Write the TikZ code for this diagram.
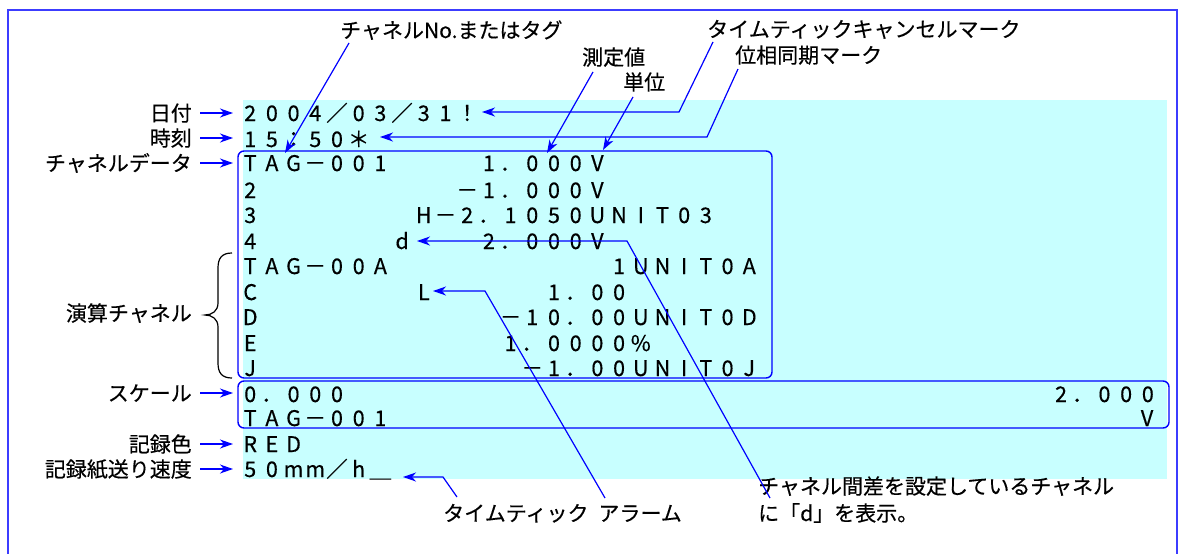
\documentclass[tikz,border=0pt]{standalone}
\usepackage{fontspec}
\setmainfont{Noto Sans CJK JP}[FakeBold=0.4]
\usetikzlibrary{arrows.meta}
\definecolor{myblue}{RGB}{0,0,255}
\definecolor{frameblue}{RGB}{60,60,255}
\definecolor{cyanbg}{RGB}{200,255,255}
\newlength\cw
\setlength\cw{21.7pt}
\def\cellsA#1{\ifx\relax#1\else\makebox[\cw]{#1}\expandafter\cellsA\fi}
\newcommand\cells[1]{\cellsA#1\relax}
\begin{document}
\begin{tikzpicture}[x=1pt,y=-1pt,
  jp/.style={font=\fontsize{21}{27}\selectfont, inner sep=0pt, text height=18.5pt, text depth=2.5pt},
  jpml/.style={font=\fontsize{21}{27}\selectfont, inner sep=0pt, align=left},
  dat/.style={font=\fontsize{21.5}{25}\selectfont, inner sep=0pt, anchor=base west},
  conn/.style={draw=myblue, line width=1.2pt},
  arr/.style={conn, -{Stealth[length=13pt,width=9pt,inset=4pt]}},
  frameline/.style={draw=frameblue, line width=2pt},
  databox/.style={draw=myblue, line width=1.4pt, rounded corners=6pt},
  bracel/.style={draw=black, line width=1.2pt}]
\useasboundingbox (0,0) rectangle (1178,554);
% frame and background
\draw[frameline] (8,570) -- (8,10) -- (1177,10) -- (1177,570);
\fill[cyanbg] (243,100) rectangle (1167,479);
% data rows
\node[dat] (r1) at ({239.15},121) {\cells{2004／03／31！}};
\node[dat] (r2) at ({239.15},147) {\cells{15：50＊}};
\node[dat] (r3a) at ({239.15},171) {\cells{TAG－001}};
\node[dat] (r3b) at ({239.15+21.7*11},171) {\cells{1．000V}};
\node[dat] (r4a) at ({239.15},198) {\cells{2}};
\node[dat] (r4b) at ({239.15+21.7*10},198) {\cells{－1．000V}};
\node[dat] (r5a) at ({239.15},223) {\cells{3}};
\node[dat] (r5b) at ({239.15+21.7*8},223) {\cells{H－2．1050UNIT03}};
\node[dat] (r6a) at ({239.15},249) {\cells{4}};
\node[dat] (r6b) at ({239.15+21.7*7},249) {\cells{d}};
\node[dat] (r6c) at ({239.15+21.7*11},249) {\cells{2．000V}};
\node[dat] (r7a) at ({239.15},274) {\cells{TAG－00A}};
\node[dat] (r7b) at ({239.15+21.7*17},274) {\cells{1UNIT0A}};
\node[dat] (r8a) at ({239.15},300) {\cells{C}};
\node[dat] (r8b) at ({239.15+21.7*8},300) {\cells{L}};
\node[dat] (r8c) at ({239.15+21.7*14},300) {\cells{1．00}};
\node[dat] (r9a) at ({239.15},325) {\cells{D}};
\node[dat] (r9b) at ({239.15+21.7*12},325) {\cells{－10．00UNIT0D}};
\node[dat] (r10a) at ({239.15},351) {\cells{E}};
\node[dat] (r10b) at ({239.15+21.7*12},351) {\cells{1．0000\%}};
\node[dat] (r11a) at ({239.15},376) {\cells{J}};
\node[dat] (r11b) at ({239.15+21.7*13},376) {\cells{－1．00UNIT0J}};
\node[dat] (r12a) at ({239.15},402) {\cells{0．000}};
\node[dat] (r12b) at (1050,402) {\cells{2．000}};
\node[dat] (r13a) at ({239.15},426) {\cells{TAG－001}};
\node[dat] (r13b) at (1136,426) {\cells{V}};
\node[dat] (r14) at ({239.15},452) {\cells{RED}};
\node[dat] (r15) at ({239.15},477) {\cells{50mm／h＿}};
% boxes
\draw[databox] (238,151) rectangle (772,378);
\draw[databox] (238,381) rectangle (1169,428);
% left labels
\node[jp, anchor=east] (lDate) at (192,113) {日付};
\node[jp, anchor=east] (lTime) at (192,138) {時刻};
\node[jp, anchor=east] (lCh) at (192,163) {チャネルデータ};
\node[jp, anchor=east] (lCalc) at (192,313) {演算チャネル};
\node[jp, anchor=east] (lScale) at (192,393) {スケール};
\node[jp, anchor=east] (lColor) at (192,444) {記録色};
\node[jp, anchor=east] (lSpeed) at (192,469) {記録紙送り速度};
\coordinate (tDate) at (233,113);
\coordinate (tTime) at (233,138);
\coordinate (tCh) at (233,163);
\coordinate (tScale) at (233,393);
\coordinate (tColor) at (233,444);
\coordinate (tSpeed) at (233,469);
\draw[arr] ([xshift=8pt]lDate.east) -- (tDate);
\draw[arr] ([xshift=8pt]lTime.east) -- (tTime);
\draw[arr] ([xshift=8pt]lCh.east) -- (tCh);
\draw[arr] ([xshift=8pt]lScale.east) -- (tScale);
\draw[arr] ([xshift=8pt]lColor.east) -- (tColor);
\draw[arr] ([xshift=8pt]lSpeed.east) -- (tSpeed);
% brace
\draw[bracel] (232,253) .. controls (222,253) and (218,258) .. (218,268) -- (218,303)
  .. controls (218,311) and (212,315) .. (205,315)
  .. controls (212,315) and (218,319) .. (218,327) -- (218,363)
  .. controls (218,373) and (222,378) .. (232,378);
% top labels
\node[jp, anchor=base west] (lNo) at (340,38) {チャネルNo.またはタグ};
\node[jp, anchor=base west] (lMeas) at (582,65) {測定値};
\node[jp, anchor=base west] (lUnit) at (623,90) {単位};
\node[jp, anchor=base west] (lTTC) at (707,37) {タイムティックキャンセルマーク};
\node[jp, anchor=base west] (lPh) at (735,63) {位相同期マーク};
% bottom labels
\node[jp, anchor=base west] (lTT) at (443,521) {タイムティック};
\node[jp, anchor=base east] (lAl) at (682,521) {アラーム};
\node[jpml, anchor=base west] (lDiff) at (758,521) {チャネル間差を設定しているチャネル\\に「d」を表示。};
% connector points
\coordinate (cNoS) at (349,43);   \coordinate (cNoT) at (285,153);
\coordinate (cMeasS) at (593,72); \coordinate (cMeasT) at (547,153);
\coordinate (cUnitS) at (633,97); \coordinate (cUnitT) at (603,150);
\coordinate (cTTCS) at (713,42);  \coordinate (cTTCB) at (679,112); \coordinate (cTTCT) at (482,112);
\coordinate (cPhS) at (738,69);   \coordinate (cPhB) at (707,137);  \coordinate (cPhT) at (380,137);
\coordinate (cDS) at (770,498);   \coordinate (cDB) at (627,241);   \coordinate (cDT) at (417,241);
\coordinate (cLS) at (605,498);   \coordinate (cLB) at (485,291);   \coordinate (cLT) at (433,291);
\coordinate (cTTS) at (457,497);  \coordinate (cTTB) at (443,477);  \coordinate (cTTT) at (403,477);
\draw[arr] (cNoS) -- (cNoT);
\draw[arr] (cMeasS) -- (cMeasT);
\draw[arr] (cUnitS) -- (cUnitT);
\draw[arr] (cTTCS) -- (cTTCB) -- (cTTCT);
\draw[arr] (cPhS) -- (cPhB) -- (cPhT);
\draw[arr] (cDS) -- (cDB) -- (cDT);
\draw[arr] (cLS) -- (cLB) -- (cLT);
\draw[arr] (cTTS) -- (cTTB) -- (cTTT);
\end{tikzpicture}
\end{document}
